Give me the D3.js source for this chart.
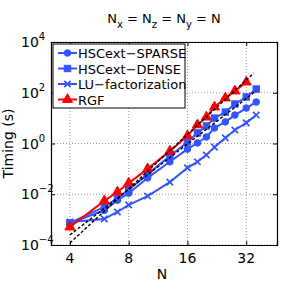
<!DOCTYPE html>
<html>
<head>
<style>
  body { margin: 0; background: #fff; }
  text { font-family: "DejaVu Sans", sans-serif; }
</style>
</head>
<body>
<svg width="291" height="292"></svg>
<script src="https://d3js.org/d3.v7.min.js"></script>
<script>

// N values
var nAll = [4, 6, 7, 8, 10, 13, 16, 18, 20, 22, 25, 28, 32, 36];
var nRgf = [4, 6, 7, 8, 10, 13, 16, 18, 20, 22, 25, 28, 32];

// timings, seconds
var sparse = [7.4e-4, 2.3e-3, 5.8e-3, 1.1e-2, 4.4e-2, 0.19, 0.6, 1.05, 1.8, 4.1, 7.1, 13.2, 25, 43];
var dense  = [7.4e-4, 3.2e-3, 7.1e-3, 1.5e-2, 6.3e-2, 0.32, 1.15, 2.6, 4.9, 10, 17.4, 36, 68, 140];
var lu     = [8.1e-4, 1.07e-3, 2.0e-3, 3.8e-3, 8.5e-3, 3.0e-2, 0.11, 0.19, 0.35, 0.72, 1.66, 3.4, 6.5, 13.2];
var rgf    = [5.1e-4, 5.5e-3, 1.23e-2, 2.75e-2, 0.1, 0.5, 2.0, 5.4, 11, 27.5, 62, 117, 263];

// black dashed reference slopes (end points)
var refA = [[4, 1.2e-4], [35, 600]];
var refB = [[4, 2.5e-4], [36, 120]];

var xTicks = [4, 8, 16, 32];
var yTicks = [-4, -2, 0, 2, 4];

var blue = "#3355ff", red = "#ff0000";

var svg = d3.select("svg"),
    margin = {top: 42, right: 14, bottom: 47, left: 51},
    width = +svg.attr("width") - margin.left - margin.right,
    height = +svg.attr("height") - margin.top - margin.bottom,
    g = svg.append("g").attr("transform", "translate(" + margin.left + "," + margin.top + ")");

var x = d3.scaleLog().domain([3.2, 46]).range([0, width]);
var y = d3.scaleLog().domain([1e-4, 1e4]).range([height, 0]);

// grid
g.selectAll(".gx").data(xTicks).enter().append("line")
    .attr("x1", function(d) { return x(d); }).attr("x2", function(d) { return x(d); })
    .attr("y1", 0).attr("y2", height)
    .attr("stroke", "#999").attr("stroke-dasharray", "1,2");
g.selectAll(".gy").data(yTicks).enter().append("line")
    .attr("y1", function(d) { return y(Math.pow(10, d)); }).attr("y2", function(d) { return y(Math.pow(10, d)); })
    .attr("x1", 0).attr("x2", width)
    .attr("stroke", "#999").attr("stroke-dasharray", "1,2");

// axes with inward ticks on all four sides
var yVals = yTicks.map(function(d) { return Math.pow(10, d); });
g.append("g").attr("transform", "translate(0," + height + ")")
    .call(d3.axisBottom(x).tickValues(xTicks).tickSize(-4).tickFormat(""));
g.append("g")
    .call(d3.axisTop(x).tickValues(xTicks).tickSize(-4).tickFormat(""));
g.append("g")
    .call(d3.axisLeft(y).tickValues(yVals).tickSize(-4).tickFormat(""));
g.append("g").attr("transform", "translate(" + width + ",0)")
    .call(d3.axisRight(y).tickValues(yVals).tickSize(-4).tickFormat(""));
g.selectAll(".domain").attr("stroke", "#000").attr("stroke-width", 1.2);
g.selectAll(".tick line").attr("stroke", "#000");

// tick labels
g.selectAll(".xl").data(xTicks).enter().append("text")
    .attr("x", function(d) { return x(d); })
    .attr("y", height + 18)
    .attr("text-anchor", "middle")
    .attr("font-size", 14)
    .text(function(d) { return d; });

var yl = g.selectAll(".yl").data(yTicks).enter().append("text")
    .attr("x", -30)
    .attr("y", function(d) { return y(Math.pow(10, d)) + 5; })
    .attr("font-size", 14);
yl.append("tspan").text("10");
yl.append("tspan").attr("dy", -7).attr("font-size", 10)
    .text(function(d) { return d < 0 ? "\u2212" + (-d) : d; });

// axis titles
g.append("text")
    .attr("x", 111).attr("y", height + 34)
    .attr("text-anchor", "middle").attr("font-size", 14).text("N");
g.append("text")
    .attr("transform", "translate(-38," + (height / 2) + ") rotate(-90)")
    .attr("text-anchor", "middle").attr("font-size", 14).text("Timing (s)");

// title
var t = svg.append("text").attr("x", 164).attr("y", 23)
    .attr("text-anchor", "middle").attr("font-size", 13);
t.append("tspan").text("N");
t.append("tspan").attr("dy", 5).attr("font-size", 10).text("x");
t.append("tspan").attr("dy", -5).text(" = N");
t.append("tspan").attr("dy", 5).attr("font-size", 10).text("z");
t.append("tspan").attr("dy", -5).text(" = N");
t.append("tspan").attr("dy", 5).attr("font-size", 10).text("y");
t.append("tspan").attr("dy", -5).text(" = N");

// series
var line = d3.line()
    .x(function(d) { return x(d[0]); })
    .y(function(d) { return y(d[1]); });

var series = [
  {name: "HSCext\u2212SPARSE", n: nAll, v: sparse, color: blue, marker: "circle"},
  {name: "HSCext\u2212DENSE", n: nAll, v: dense, color: blue, marker: "square"},
  {name: "LU\u2212factorization", n: nAll, v: lu, color: blue, marker: "x"},
  {name: "RGF", n: nRgf, v: rgf, color: red, marker: "triangle"}
];

function drawMarker(sel, type, color) {
  if (type === "circle") {
    sel.append("circle").attr("r", 3.3).attr("fill", color).attr("stroke", color);
  } else if (type === "square") {
    sel.append("rect").attr("x", -3.2).attr("y", -3.2).attr("width", 6.4).attr("height", 6.4)
        .attr("fill", color).attr("stroke", color);
  } else if (type === "x") {
    sel.append("path").attr("d", "M-3.2,-3.2L3.2,3.2M-3.2,3.2L3.2,-3.2")
        .attr("stroke", color).attr("stroke-width", 1.7).attr("fill", "none");
  } else {
    sel.append("path").attr("d", d3.symbol().type(d3.symbolTriangle).size(44)())
        .attr("fill", color).attr("stroke", color);
  }
}

series.forEach(function(s) {
  var pts = s.n.map(function(n, i) { return [n, s.v[i]]; });
  g.append("path").datum(pts)
      .attr("fill", "none").attr("stroke", s.color).attr("stroke-width", 2)
      .attr("stroke-linejoin", "round").attr("d", line);
  pts.forEach(function(p) {
    var m = g.append("g").attr("transform", "translate(" + x(p[0]) + "," + y(p[1]) + ")");
    drawMarker(m, s.marker, s.color);
  });
});

[refA, refB].forEach(function(r) {
  g.append("path").datum(r)
      .attr("fill", "none").attr("stroke", "#000").attr("stroke-width", 1.4)
      .attr("stroke-dasharray", "3,2").attr("d", line);
});

// legend
var lg = svg.append("g").attr("transform", "translate(53,44)");
lg.append("rect").attr("width", 132).attr("height", 64)
    .attr("fill", "#fff").attr("stroke", "#000");
series.forEach(function(s, i) {
  var row = lg.append("g").attr("transform", "translate(0," + (9 + i * 15.5) + ")");
  row.append("line").attr("x1", 5).attr("x2", 24)
      .attr("stroke", s.color).attr("stroke-width", 2);
  var m = row.append("g").attr("transform", "translate(14.5,0)");
  drawMarker(m, s.marker, s.color);
  row.append("text").attr("x", 25).attr("y", 5)
      .attr("font-size", 13).text(s.name);
});

</script>
</body>
</html>
